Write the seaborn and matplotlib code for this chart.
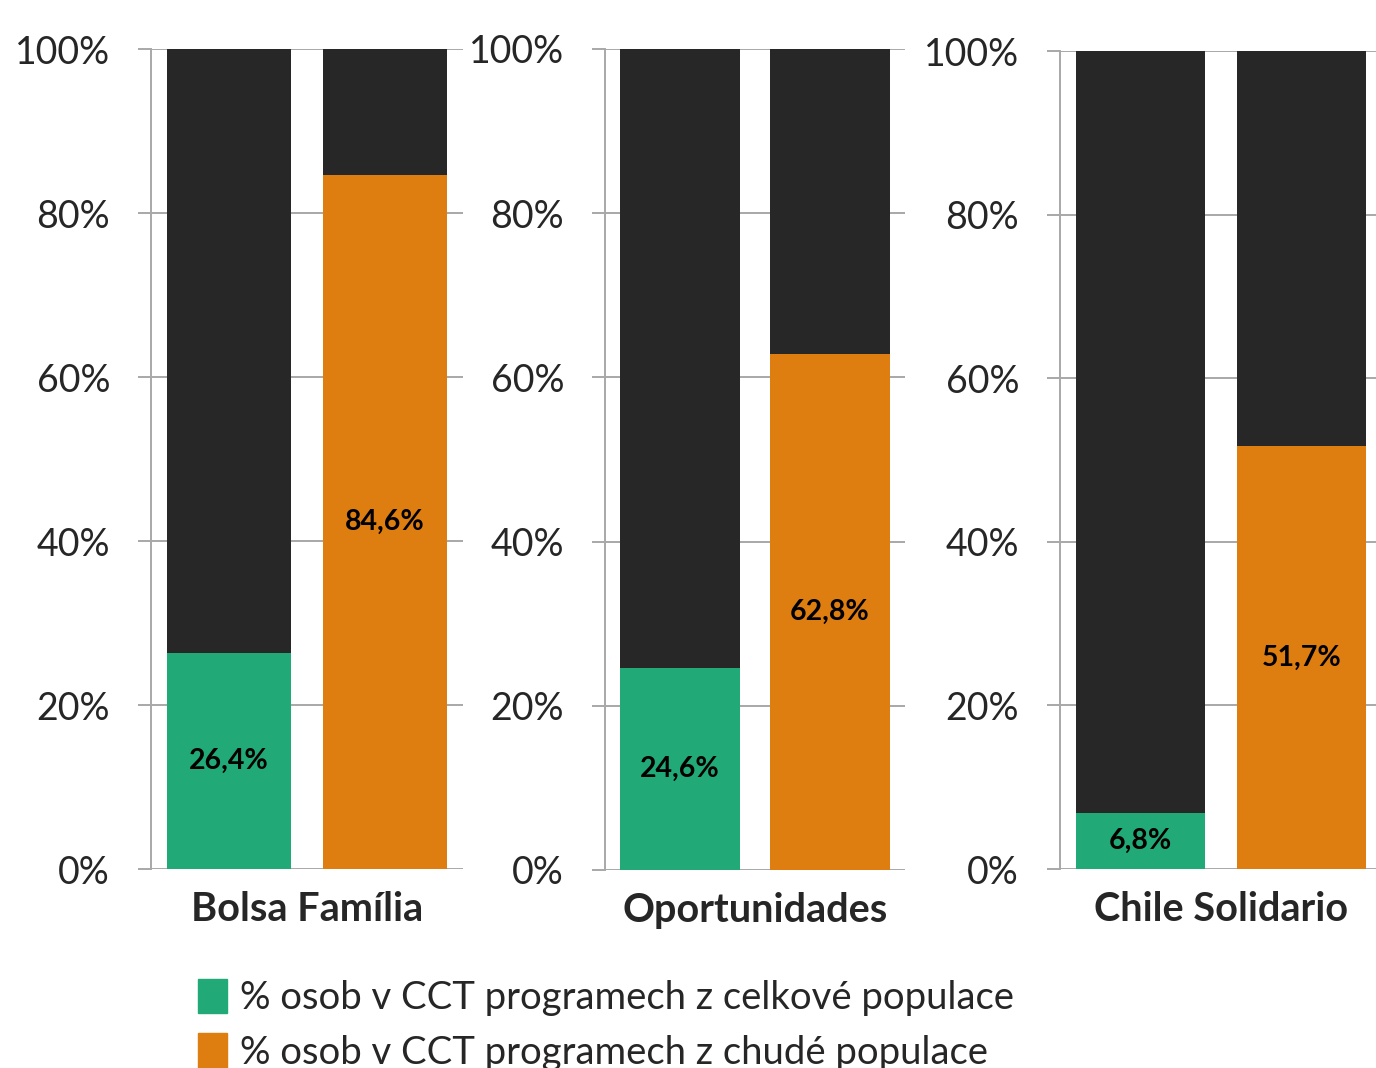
import matplotlib
matplotlib.use("Agg")
import matplotlib.pyplot as plt
import matplotlib.patches as mpatches
import seaborn as sns
import pandas as pd

# Data
programs = ["Bolsa Família", "Oportunidades", "Chile Solidario"]
series = ["% osob v CCT programech z celkové populace",
          "% osob v CCT programech z chudé populace"]
total_pop = [26.4, 24.6, 6.8]
poor_pop = [84.6, 62.8, 51.7]
y_ticks = [0, 20, 40, 60, 80, 100]

dark = "#272727"
green = "#21AA77"
orange = "#DE7D10"
grid_col = "#A8A8A8"

sns.set_theme(style="white")
plt.rcParams["font.family"] = ["Lato", "DejaVu Sans"]

fig = plt.figure(figsize=(13.76, 10.68), dpi=100)
W, H = 1376, 1068

# axes positions in pixels: left, top, right, bottom
boxes = [(151, 49, 463, 869), (605, 49, 905, 870), (1060, 51, 1382, 869)]

for i, prog in enumerate(programs):
    l, t, r, b = boxes[i]
    ax = fig.add_axes([l / W, 1 - b / H, (r - l) / W, (b - t) / H])
    df = pd.DataFrame({"serie": series, "value": [total_pop[i], poor_pop[i]]})

    ax.set_axisbelow(True)
    ax.grid(axis="y", color=grid_col, linewidth=1.4)
    sns.barplot(data=df, x="serie", y=[100, 100], color=dark, saturation=1,
                width=0.8, errorbar=None, linewidth=0, ax=ax)
    sns.barplot(data=df, x="serie", y="value", hue="serie",
                palette=[green, orange], saturation=1, width=0.8,
                errorbar=None, legend=False, linewidth=0, ax=ax)

    for j, v in enumerate(df["value"]):
        ax.text(j, v / 2, f"{v:.1f}%".replace(".", ","), ha="center",
                va="center", fontsize=20.5, fontweight="bold", color="black")

    ax.set_ylim(0, 100)
    ax.set_xlim(-0.5, 1.5)
    ax.set_yticks(y_ticks)
    ax.set_yticklabels([f"{v}%" for v in y_ticks], fontsize=27)
    ax.tick_params(axis="y", length=9.5, width=1.4, color=grid_col, pad=20,
                   left=True)
    ax.set_xticks([])
    ax.set_xlabel(prog, fontsize=28.5, fontweight="bold", labelpad=16)
    ax.set_ylabel("")
    for s in ["top", "right", "bottom"]:
        ax.spines[s].set_visible(False)
    ax.spines["left"].set_color(grid_col)
    ax.spines["left"].set_linewidth(1.4)

handles = [mpatches.Patch(color=green), mpatches.Patch(color=orange)]
fig.legend(handles, series, loc="upper left",
           bbox_to_anchor=(198 / W, 1 - 979 / H), frameon=False,
           fontsize=27.5, handlelength=0.75, handleheight=1.0,
           handletextpad=0.35, labelspacing=0.45, borderpad=0,
           borderaxespad=0)

fig.savefig("out.png", dpi=100)
